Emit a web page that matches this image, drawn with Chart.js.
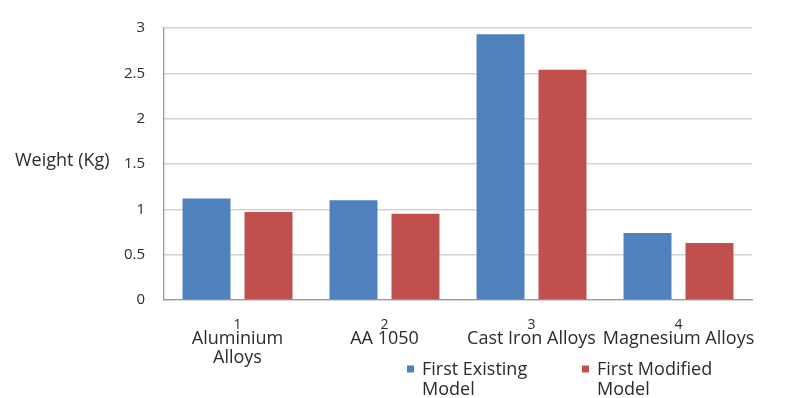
<!DOCTYPE html>
<html>
<head>
<meta charset="utf-8">
<style>
  html, body { margin: 0; padding: 0; background: #ffffff; }
  #wrap { position: relative; width: 797px; height: 398px; }
</style>
<script src="https://cdn.jsdelivr.net/npm/chart.js@4.4.1/dist/chart.umd.min.js"></script>
</head>
<body>
<div id="wrap"><canvas id="chart" width="797" height="398"></canvas></div>
<script>
// Alloy weights for the two models
const categoryNumbers = ["1", "2", "3", "4"];
const categoryNames = [["Aluminium", "Alloys"], "AA 1050", "Cast Iron Alloys", "Magnesium Alloys"];
const seriesNames = ["First Existing Model", "First Modified Model"];
const existingWeights = [1.12, 1.10, 2.93, 0.74];
const modifiedWeights = [0.97, 0.95, 2.54, 0.63];
const yTicks = [0, 0.5, 1, 1.5, 2, 2.5, 3];
const yAxisTitle = "Weight (Kg)";

const FONT = "'Open Sans', sans-serif";
const TEXT = "#2b2b2b";

// Horizontal y-axis caption to the left of the tick labels
const sideTitle = {
  id: "sideTitle",
  afterDraw(chart) {
    const { ctx, chartArea } = chart;
    ctx.save();
    ctx.font = "18px " + FONT;
    ctx.fillStyle = TEXT;
    ctx.textAlign = "left";
    ctx.textBaseline = "middle";
    ctx.fillText(yAxisTitle, 15, (chartArea.top + chartArea.bottom) / 2 - 3);
    ctx.restore();
  }
};

// Bottom legend with wrapped item text
const wrapLegend = {
  id: "wrapLegend",
  afterDraw(chart, args, opts) {
    const { ctx } = chart;
    ctx.save();
    ctx.font = opts.fontSize + "px " + FONT;
    ctx.fillStyle = TEXT;
    ctx.textAlign = "left";
    ctx.textBaseline = "middle";
    chart.data.datasets.forEach((ds, i) => {
      const x = opts.itemX[i];
      const words = ds.label.split(" ");
      const lines = [];
      let cur = "";
      words.forEach(w => {
        const t = cur ? cur + " " + w : w;
        if (cur && ctx.measureText(t).width > opts.maxWidth) { lines.push(cur); cur = w; }
        else cur = t;
      });
      if (cur) lines.push(cur);
      ctx.fillStyle = ds.backgroundColor;
      ctx.fillRect(x, opts.top - opts.box / 2 - 1, opts.box, opts.box);
      ctx.fillStyle = TEXT;
      lines.forEach((ln, k) => ctx.fillText(ln, x + opts.box + 8, opts.top + k * opts.lineGap));
    });
    ctx.restore();
  }
};

new Chart(document.getElementById("chart"), {
  type: "bar",
  data: {
    labels: categoryNumbers,
    datasets: [
      { label: seriesNames[0], data: existingWeights, backgroundColor: "#4F81BD",
        categoryPercentage: 0.843, barPercentage: 0.774, xAxisID: "x" },
      { label: seriesNames[1], data: modifiedWeights, backgroundColor: "#C0504D",
        categoryPercentage: 0.843, barPercentage: 0.774, xAxisID: "x" }
    ]
  },
  options: {
    responsive: false,
    animation: false,
    layout: { padding: { left: 0, right: 45, top: 19, bottom: 0 } },
    plugins: {
      legend: { display: false },
      tooltip: { enabled: false },
      wrapLegend: { itemX: [407, 582], top: 370, lineGap: 20, box: 7, fontSize: 18, maxWidth: 135 }
    },
    scales: {
      y: {
        min: 0, max: 3,
        afterBuildTicks(scale) { scale.ticks = yTicks.map(v => ({ value: v })); },
        afterFit(scale) { scale.width = 164; },
        grid: { color: "#d3d3d3", lineWidth: 1.4, drawTicks: false },
        border: { color: "#9a9a9a", width: 1.3 },
        ticks: { padding: 19, color: TEXT, font: { family: FONT, size: 15 },
                 callback: v => String(v) }
      },
      x: {
        type: "category",
        weight: 0,
        afterFit(scale) { scale.height = 30; },
        grid: { display: false, drawTicks: false },
        border: { color: "#9a9a9a", width: 1.3 },
        ticks: { padding: 17, color: TEXT, font: { family: FONT, size: 14 } }
      },
      x2: {
        type: "category",
        position: "bottom",
        labels: categoryNames,
        weight: 1,
        afterFit(scale) { scale.height = 68; },
        grid: { display: false, drawTicks: false },
        border: { display: false },
        ticks: { padding: 0, color: TEXT, maxRotation: 0, autoSkip: false,
                 font: { family: FONT, size: 18, lineHeight: 1.02 } }
      }
    }
  },
  plugins: [sideTitle, wrapLegend]
});
</script>
</body>
</html>
